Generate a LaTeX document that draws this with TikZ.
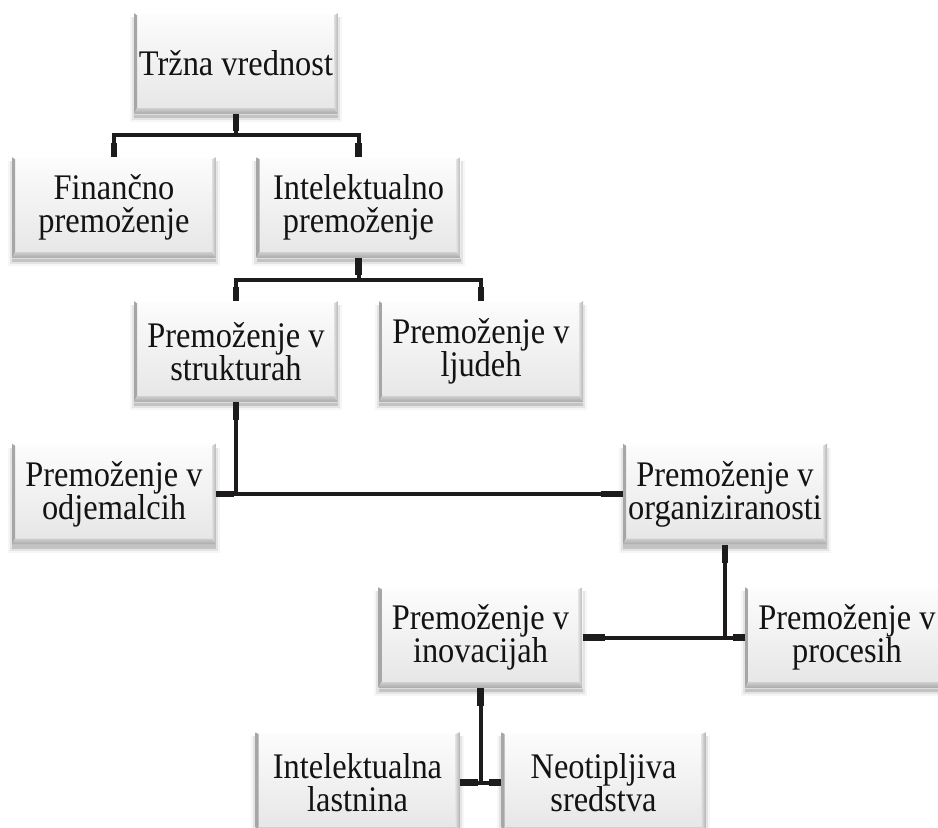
\documentclass[tikz,border=0pt]{standalone}
\usepackage{fontspec}
\setmainfont{Liberation Serif}
\newfontfamily\tilefont[FakeStretch=0.9]{Liberation Serif}
\usetikzlibrary{shadows}
\definecolor{linkink}{RGB}{30,27,28}
\definecolor{textink}{RGB}{20,18,19}

\begin{document}
\begin{tikzpicture}[x=1pt,y=-1pt,
  tile/.style={rectangle, minimum width=204pt, minimum height=101pt,
    inner sep=0pt, align=center,
    font=\tilefont\fontsize{36}{33}\selectfont, text=textink,
    top color=gray!2, bottom color=gray!20,
    drop shadow={shadow xshift=0pt, shadow yshift=-4pt, shadow scale=1.0, opacity=.22, fill=black!70},
    drop shadow={shadow xshift=0pt, shadow yshift=-5pt, shadow scale=1.02, opacity=.10, fill=black!70},
    drop shadow={shadow xshift=0pt, shadow yshift=-6pt, shadow scale=1.04, opacity=.05, fill=black!70},
    path picture={
      % left bevel
      \shade[left color=gray!70, right color=gray!22]
        (path picture bounding box.south west) -- (path picture bounding box.north west)
        -- ([xshift=3pt,yshift=-2pt]path picture bounding box.north west)
        -- ([xshift=3pt,yshift=6pt]path picture bounding box.south west) -- cycle;
      % right bevel
      \shade[left color=gray!25, right color=gray!58]
        (path picture bounding box.south east) -- (path picture bounding box.north east)
        -- ([xshift=-4pt,yshift=-2pt]path picture bounding box.north east)
        -- ([xshift=-4pt,yshift=6pt]path picture bounding box.south east) -- cycle;
      % bottom bevel
      \shade[top color=gray!38, bottom color=gray!68]
        (path picture bounding box.south west) -- (path picture bounding box.south east)
        -- ([xshift=-4pt,yshift=6pt]path picture bounding box.south east)
        -- ([xshift=3pt,yshift=6pt]path picture bounding box.south west) -- cycle;
      % top highlight
      \fill[white, opacity=.8]
        (path picture bounding box.north west) -- (path picture bounding box.north east)
        -- ([xshift=-4pt,yshift=-2pt]path picture bounding box.north east)
        -- ([xshift=3pt,yshift=-2pt]path picture bounding box.north west) -- cycle;
    }},
  link/.style={draw=linkink, line width=4pt},
  stub/.style={draw=linkink, line width=6.5pt}
]
\useasboundingbox (0,0) rectangle (938,828);
\clip (0,0) rectangle (938,828);

% boxes
\node[tile] (trzna)  at (236,63.5)   {Tržna vrednost};
\node[tile] (fin)    at (114,207.5)  {Finančno\\premoženje};
\node[tile] (intel)  at (358.5,207.5){Intelektualno\\premoženje};
\node[tile] (strukt) at (236,351.5)  {Premoženje v\\strukturah};
\node[tile] (ljudi)  at (481,351.5)  {Premoženje v\\ljudeh};
\node[tile] (odjem)  at (114,494)    {Premoženje v\\odjemalcih};
\node[tile] (organ)  at (725,494)    {Premoženje v\\organiziranosti};
\node[tile] (inov)   at (480.5,637.5){Premoženje v\\inovacijah};
\node[tile] (proc)   at (847,637.5)  {Premoženje v\\procesih};
\node[tile] (intl)   at (357.5,782.5){Intelektualna\\lastnina};
\node[tile] (neot)   at (603.5,782.5){Neotipljiva\\sredstva};

% connectors
\draw[link] (trzna.south) -- ++(0,21) -| (fin.north);
\draw[link] (trzna.south) ++(0,21) -| (intel.north);
\draw[stub] (trzna.south) -- ++(0,17);
\draw[stub] (fin.north) -- ++(0,-14);
\draw[stub] (intel.north) -- ++(0,-14);

\draw[link] (intel.south) -- ++(0,22) -| (strukt.north);
\draw[link] (intel.south) ++(0,22) -| (ljudi.north);
\draw[stub] (intel.south) -- ++(0,17);
\draw[stub] (strukt.north) -- ++(0,-14);
\draw[stub] (ljudi.north) -- ++(0,-14);

\draw[link] (strukt.south) -- (strukt.south |- odjem.east);
\draw[link] (odjem.east) -- (organ.west);
\draw[stub] (strukt.south) -- ++(0,18);
\draw[stub] (odjem.east) -- ++(18,0);
\draw[stub] (organ.west) -- ++(-22,0);

\draw[link] (organ.south) -- (organ.south |- inov.east);
\draw[link] (inov.east) -- (proc.west);
\draw[stub] (organ.south) -- ++(0,18);
\draw[stub] (inov.east) -- ++(22,0);
\draw[stub] (proc.west) -- ++(-12,0);

\draw[link] (inov.south) -- (inov.south |- intl.east);
\draw[link] (intl.east) -- (neot.west);
\draw[stub] (inov.south) -- ++(0,18);
\draw[stub] (intl.east) -- ++(18,0);
\draw[stub] (neot.west) -- ++(-12,0);
\end{tikzpicture}
\end{document}
